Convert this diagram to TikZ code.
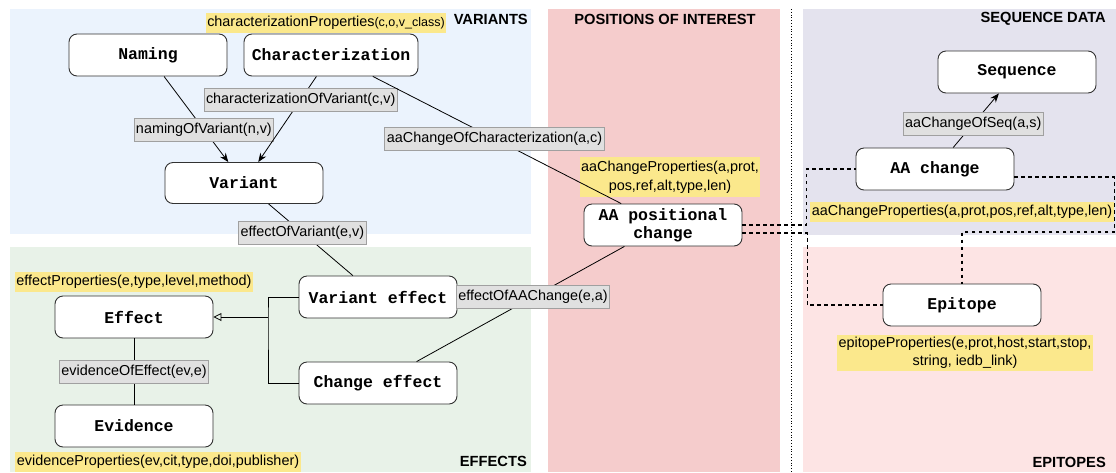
\documentclass[tikz,border=0pt]{standalone}
\usepackage{fontspec}
\setmainfont{Liberation Sans}
\newfontfamily\codefont{Liberation Mono}
\usepackage{tikz}
\usetikzlibrary{arrows.meta,positioning,calc}
\definecolor{variantsBlue}{RGB}{235,243,253}
\definecolor{effectsGreen}{RGB}{232,242,232}
\definecolor{positionsRed}{RGB}{245,204,204}
\definecolor{sequenceLilac}{RGB}{228,227,238}
\definecolor{epitopesPink}{RGB}{253,228,228}
\definecolor{propYellow}{RGB}{251,232,140}
\definecolor{relGray}{RGB}{224,224,224}
\definecolor{relBorder}{RGB}{160,160,160}
\definecolor{entityBorder}{RGB}{50,50,50}
\tikzset{
  entity/.style={draw=entityBorder, fill=white, rounded corners=8pt, line width=0.9pt,
    minimum width=158pt, minimum height=42pt, align=center,
    font=\codefont\bfseries\fontsize{16.5}{18}\selectfont},
  rel/.style={draw=relBorder, fill=relGray, inner xsep=2pt, inner ysep=4.7pt,
    text height=10.5pt, text depth=3pt, font=\fontsize{14.4}{17}\selectfont},
  props/.style={fill=propYellow, inner xsep=1.5pt, inner ysep=3.2pt, align=center,
    text height=10.5pt, text depth=3pt, font=\fontsize{14.4}{19}\selectfont},
  twolines/.style={text height={}, text depth={}},
  blocktitle/.style={font=\bfseries\fontsize{14.7}{17}\selectfont, inner sep=0pt},
  link/.style={line width=1.8pt, dash pattern=on 3.5pt off 3.5pt},
  assoc/.style={line width=0.8pt},
}

\begin{document}
\begin{tikzpicture}[x=1pt,y=-1pt]
  \useasboundingbox (0,0) rectangle (1116,472);
  % Coloured blocks
  \fill[variantsBlue] (10,9) rectangle (531,234);
  \fill[effectsGreen] (10,247) rectangle (531,472);
  \fill[positionsRed] (548,9) rectangle (780,472);
  \fill[sequenceLilac] (803,9) rectangle (1116,235);
  \fill[epitopesPink] (803,247) rectangle (1116,472);
  \draw[dotted, line width=0.8pt] (791,9) -- (791,472);
  % Block titles
  \node[blocktitle, anchor=east] (ttlvariants) at (528,19) {VARIANTS};
  \node[blocktitle] (ttlpositions) at (665,19) {POSITIONS OF INTEREST};
  \node[blocktitle, anchor=east] (ttlsequence) at (1106,19) {SEQUENCE DATA};
  \node[blocktitle, anchor=east] (ttleffects) at (527,461) {EFFECTS};
  \node[blocktitle, anchor=east] (ttlepitopes) at (1106,462) {EPITOPES};

  % Entities
  \node[entity] (naming) at (148,55) {Naming};
  \node[entity, minimum width=174pt] (charact) at (331,55) {Characterization};
  \node[entity, minimum height=41pt] (variant) at (244,183) {Variant};
  \node[entity] (effect) at (134,317) {Effect};
  \node[entity] (evidence) at (134,426) {Evidence};
  \node[entity] (vareff) at (378,297) {Variant effect};
  \node[entity] (chgeff) at (378,383) {Change effect};
  \node[entity] (aapos) at (663,225) {AA positional\\change};
  \node[entity] (sequence) at (1017,72) {Sequence};
  \node[entity] (aachg) at (935,169) {AA change};
  \node[entity] (epitope) at (962,305) {Epitope};

  % Properties
  \node[props] (charprops) at (326,23)
    {characterizationProperties{\fontsize{12.5}{15}\selectfont(c,o,v\_class)}};
  \node[props, twolines, inner ysep=3.8pt] (aaposprops) at (670,177)
    {aaChangeProperties(a,prot,\\pos,ref,alt,type,len)};
  \node[props] (effprops) at (134,282) {effectProperties(e,type,level,method)};
  \node[props] (evprops) at (158,462) {evidenceProperties(ev,cit,type,doi,publisher)};
  \node[props] (aachgprops) at (962,212) {aaChangeProperties(a,prot,pos,ref,alt,type,len)};
  \node[props, twolines, font=\fontsize{14.4}{18}\selectfont, inner ysep=2.4pt] (epiprops)
    at (965,353) {epitopeProperties(e,prot,host,start,stop,\\string, iedb\_link)};

  % Relations
  \draw[assoc, -{Stealth[length=9pt,width=7pt]}] (naming) --
    node[rel, pos=0.62] (namingrel) {namingOfVariant(n,v)} (variant);
  \draw[assoc, -{Stealth[length=9pt,width=7pt]}] (charact) --
    node[rel, pos=0.27] (charrel) {characterizationOfVariant(c,v)} (variant);
  \draw[assoc] (charact) --
    node[rel, pos=0.49] (charaarel) {aaChangeOfCharacterization(a,c)} (aapos);
  \draw[assoc] (variant) --
    node[rel, pos=0.4] (effvarrel) {effectOfVariant(e,v)} (vareff);
  \draw[assoc] (chgeff) --
    node[rel, pos=0.56] (effaarel) {effectOfAAChange(e,a)} (aapos);
  \draw[assoc] (effect) --
    node[rel, pos=0.5] (evidrel) {evidenceOfEffect(ev,e)} (evidence);
  \draw[assoc, -{Stealth[length=9pt,width=7pt]}] (aachg) --
    node[rel, pos=0.44] (seqrel) {aaChangeOfSeq(a,s)} (sequence);

  % Effect subtypes
  \coordinate (fork) at (268,317);
  \draw[assoc] (vareff.west) -| (fork) |- (chgeff.west);
  \draw[assoc, -{Triangle[open,length=8pt,width=8pt]}] (fork) -- (effect.east);

  % Links across blocks
  \draw[link] (aapos.east) -- ++(64,0) |- (aachg.west);
  \draw[link] ([yshift=-8pt]aapos.east) -- ++(65,0) |- (epitope.west);
  \draw[link] ([yshift=-8pt]aachg.east) -- ++(100,0) -- ++(0,55) -| (epitope.north);
\end{tikzpicture}
\end{document}
